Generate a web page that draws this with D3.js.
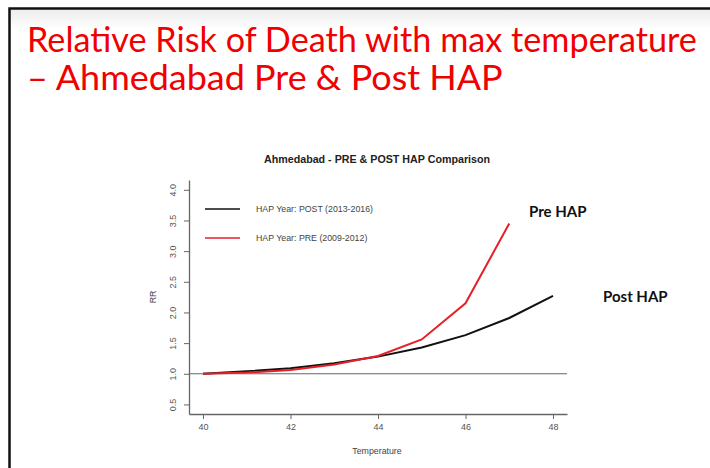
<!DOCTYPE html>
<html>
<head>
<meta charset="utf-8">
<script src="https://cdn.jsdelivr.net/npm/d3@7"></script>
<style>
  body { margin: 0; background: #fff; }
  svg { display: block; }
</style>
</head>
<body>
<svg id="chart" width="710" height="468"></svg>
<script>
// data
const temps = [40, 41, 42, 43, 44, 45, 46, 47, 48];
const rrPost = [1.00, 1.04, 1.09, 1.17, 1.28, 1.43, 1.63, 1.91, 2.27];
const tempsPre = [40, 41, 42, 43, 44, 45, 46, 47];
const rrPre = [1.00, 1.02, 1.06, 1.15, 1.29, 1.56, 2.15, 3.45];
const xTicks = [40, 42, 44, 46, 48];
const yTicks = [0.5, 1.0, 1.5, 2.0, 2.5, 3.0, 3.5, 4.0];
const legendLabels = ['HAP Year: POST (2013-2016)', 'HAP Year: PRE (2009-2012)'];
const legendColors = ['#111', '#e4202a'];
const titleLines = ['Relative Risk of Death with max temperature', '– Ahmedabad Pre & Post HAP'];

const svg = d3.select('#chart');

// slide frame
const grad = svg.append('defs').append('linearGradient')
  .attr('id', 'top').attr('x1', 0).attr('y1', 0).attr('x2', 0).attr('y2', 1);
grad.append('stop').attr('offset', 0).attr('stop-color', '#ececec');
grad.append('stop').attr('offset', 1).attr('stop-color', '#fff');
svg.append('rect')
  .attr('x', 10).attr('y', 9).attr('width', 710).attr('height', 20)
  .attr('fill', 'url(#top)');
svg.append('path')
  .attr('d', 'M9.5,470 L9.5,8.5 L712,8.5')
  .attr('fill', 'none')
  .attr('stroke', '#111')
  .attr('stroke-width', 2.5);

// slide title: squeeze each line horizontally to the width it has on the slide
const titleWidths = [670, 476];
const title = svg.append('g')
  .attr('font-family', 'Lato, "Open Sans", sans-serif')
  .attr('fill', '#f00000')
  .attr('font-size', 35);
titleLines.forEach((t, i) => {
  const txt = title.append('text').text(t);
  const len = txt.node().getComputedTextLength();
  txt.attr('transform', `translate(27,${52 + i * 38}) scale(${titleWidths[i] / len},1)`);
});

// plot region
const x = d3.scaleLinear().domain([39.68, 48.32]).range([189, 567]);
const y = d3.scaleLinear().domain([0.344, 4.16]).range([414, 180]);

const plot = svg.append('g')
  .attr('font-family', '"Liberation Sans", Arial, sans-serif');

plot.append('text')
  .attr('x', 377).attr('y', 163)
  .attr('text-anchor', 'middle')
  .attr('font-size', 10.7)
  .attr('font-weight', 'bold')
  .attr('fill', '#222')
  .text('Ahmedabad - PRE & POST HAP Comparison');

const xAxis = plot.append('g')
  .attr('transform', `translate(0,${y.range()[0]})`)
  .call(d3.axisBottom(x).tickValues(xTicks).tickSize(5).tickSizeOuter(0).tickPadding(5));
const yAxis = plot.append('g')
  .attr('transform', `translate(${x.range()[0]},0)`)
  .call(d3.axisLeft(y).tickValues(yTicks).tickFormat(d3.format('.1f')).tickSize(5).tickSizeOuter(0));

[xAxis, yAxis].forEach(ax => {
  ax.select('.domain').attr('stroke', '#666').attr('stroke-width', 1.3);
  ax.selectAll('.tick line').attr('stroke', '#666');
  ax.selectAll('.tick text').attr('fill', '#555').attr('font-size', 9)
    .attr('font-family', '"Liberation Sans", Arial, sans-serif');
});
yAxis.selectAll('.tick text')
  .attr('x', 0).attr('dy', 0)
  .attr('text-anchor', 'middle')
  .attr('transform', 'translate(-13,0) rotate(-90)');

plot.append('text')
  .attr('x', 377).attr('y', 454)
  .attr('text-anchor', 'middle')
  .attr('font-size', 8.8).attr('fill', '#444')
  .text('Temperature');
plot.append('text')
  .attr('transform', 'translate(156,297) rotate(-90)')
  .attr('text-anchor', 'middle')
  .attr('font-size', 8.8).attr('fill', '#444')
  .text('RR');

// reference line at RR = 1
plot.append('line')
  .attr('x1', x.range()[0]).attr('x2', x.range()[1])
  .attr('y1', y(1)).attr('y2', y(1))
  .attr('stroke', '#666').attr('stroke-width', 1.2);

const line = d3.line().x(d => x(d[0])).y(d => y(d[1]));
plot.append('path')
  .datum(temps.map((t, i) => [t, rrPost[i]]))
  .attr('d', line)
  .attr('fill', 'none')
  .attr('stroke', legendColors[0])
  .attr('stroke-width', 2);
plot.append('path')
  .datum(tempsPre.map((t, i) => [t, rrPre[i]]))
  .attr('d', line)
  .attr('fill', 'none')
  .attr('stroke', legendColors[1])
  .attr('stroke-width', 2);

// legend
const legend = plot.append('g');
legendLabels.forEach((lab, i) => {
  const ly = 209 + i * 29;
  legend.append('line')
    .attr('x1', 205).attr('x2', 240)
    .attr('y1', ly).attr('y2', ly)
    .attr('stroke', legendColors[i]).attr('stroke-width', 1.6);
  legend.append('text')
    .attr('x', 256).attr('y', ly + 3)
    .attr('font-size', 8.8).attr('fill', '#444')
    .text(lab);
});

// slide annotations
const notes = svg.append('g')
  .attr('font-family', 'Lato, "Open Sans", sans-serif')
  .attr('font-weight', 'bold')
  .attr('font-size', 15)
  .attr('fill', '#111');
notes.append('text').attr('x', 529).attr('y', 217).text('Pre HAP');
notes.append('text').attr('x', 603).attr('y', 302).text('Post HAP');
</script>
</body>
</html>
